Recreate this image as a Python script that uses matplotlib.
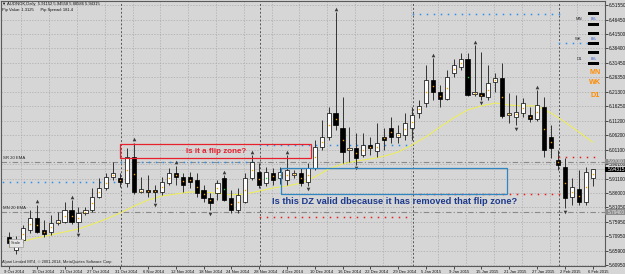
import matplotlib
matplotlib.use("Agg")
import matplotlib.pyplot as plt
import matplotlib.transforms as mtransforms
from matplotlib.patches import Rectangle
import numpy as np

# AUDNOK daily, 9 Oct 2014 .. 6 Feb 2015
opens = [5.707, 5.662, 5.697, 5.732, 5.773, 5.732, 5.725, 5.756, 5.759, 5.801,
         5.759, 5.791, 5.801, 5.847, 5.878, 5.916, 5.913, 5.895, 5.986, 5.864,
         5.871, 5.871, 5.864, 5.895, 5.930, 5.916, 5.916, 5.906, 5.871, 5.843,
         5.860, 5.913, 5.843, 5.801, 5.829, 5.913, 5.934, 5.895, 5.930, 5.913,
         5.906, 5.923, 5.930, 5.899, 5.948, 6.021, 6.056, 6.139, 6.087, 6.010,
         6.017, 5.993, 6.028, 6.007, 6.056, 6.087, 6.056, 6.063, 6.087, 6.139,
         6.174, 6.254, 6.212, 6.188, 6.279, 6.299, 6.327, 6.205, 6.209, 6.195,
         6.247, 6.261, 6.132, 6.125, 6.139, 6.132, 6.118, 6.160, 6.056, 5.976,
         5.951, 5.847, 5.874, 5.829, 5.91152]
highs = [5.725, 5.711, 5.749, 5.801, 5.819, 5.766, 5.784, 5.794, 5.829, 5.836,
         5.812, 5.812, 5.878, 5.913, 5.930, 5.969, 5.930, 6.017, 6.035, 5.916,
         5.923, 5.888, 5.916, 5.948, 5.955, 5.930, 5.934, 5.930, 5.888, 5.860,
         5.906, 5.923, 5.871, 5.878, 5.930, 5.993, 5.965, 5.951, 5.948, 5.951,
         5.993, 5.941, 5.948, 5.965, 6.045, 6.115, 6.160, 6.491, 6.195, 6.090,
         6.070, 6.070, 6.056, 6.104, 6.087, 6.125, 6.097, 6.139, 6.160, 6.185,
         6.306, 6.331, 6.237, 6.289, 6.327, 6.348, 6.348, 6.376, 6.352, 6.306,
         6.279, 6.313, 6.209, 6.202, 6.192, 6.160, 6.219, 6.195, 6.097, 6.010,
         5.982, 5.913, 5.941, 5.951, 5.94558]
lows = [5.672, 5.648, 5.686, 5.721, 5.721, 5.707, 5.714, 5.749, 5.756, 5.752,
        5.725, 5.784, 5.794, 5.843, 5.871, 5.906, 5.881, 5.881, 5.857, 5.860,
        5.847, 5.829, 5.854, 5.888, 5.888, 5.864, 5.878, 5.847, 5.829, 5.801,
        5.836, 5.833, 5.791, 5.791, 5.826, 5.906, 5.878, 5.885, 5.888, 5.892,
        5.888, 5.913, 5.885, 5.885, 5.941, 6.010, 6.045, 6.080, 5.965, 5.969,
        5.958, 5.986, 5.993, 5.986, 6.010, 6.035, 6.035, 6.045, 6.045, 6.122,
        6.160, 6.185, 6.160, 6.185, 6.265, 6.289, 6.198, 6.198, 6.185, 6.185,
        6.212, 6.122, 6.104, 6.097, 6.125, 6.108, 6.111, 5.986, 5.982, 5.941,
        5.808, 5.819, 5.819, 5.819, 5.88586]
closes = [5.686, 5.697, 5.738, 5.773, 5.725, 5.718, 5.756, 5.766, 5.801, 5.759,
          5.791, 5.801, 5.847, 5.878, 5.916, 5.930, 5.899, 5.986, 5.864, 5.874,
          5.864, 5.864, 5.899, 5.930, 5.916, 5.888, 5.899, 5.860, 5.843, 5.826,
          5.895, 5.836, 5.801, 5.854, 5.913, 5.969, 5.888, 5.934, 5.906, 5.934,
          5.941, 5.930, 5.895, 5.948, 6.021, 6.056, 6.139, 6.097, 6.003, 6.017,
          5.982, 6.028, 6.017, 6.035, 6.045, 6.056, 6.070, 6.104, 6.132, 6.164,
          6.254, 6.212, 6.188, 6.265, 6.306, 6.327, 6.202, 6.212, 6.198, 6.244,
          6.261, 6.129, 6.139, 6.143, 6.174, 6.118, 6.167, 6.010, 6.017, 5.958,
          5.843, 5.881, 5.829, 5.934, 5.94315]

# yellow moving average, read every second bar
ma_bars = list(range(0, 85, 2))
ma_vals = [5.672, 5.693, 5.704, 5.714, 5.725, 5.735, 5.752, 5.770, 5.791, 5.815,
           5.836, 5.850, 5.857, 5.864, 5.864, 5.860, 5.854, 5.857, 5.867, 5.878,
           5.885, 5.895, 5.916, 5.944, 5.962, 5.972, 5.979, 5.989, 6.003, 6.028,
           6.056, 6.090, 6.122, 6.150, 6.164, 6.174, 6.167, 6.164, 6.164, 6.139,
           6.108, 6.073, 6.038]

green_dots = [31, 37, 66]
fractal_up = [4, 9, 18, 24, 31, 35, 40, 47, 61, 67, 76]
fractal_dn = [10, 21, 29, 43, 50, 68, 73, 80]

date_labels = ["9 Oct 2014", "15 Oct 2014", "21 Oct 2014", "27 Oct 2014", "31 Oct 2014",
               "6 Nov 2014", "12 Nov 2014", "18 Nov 2014", "24 Nov 2014", "28 Nov 2014",
               "4 Dec 2014", "10 Dec 2014", "16 Dec 2014", "22 Dec 2014", "29 Dec 2014",
               "5 Jan 2015", "9 Jan 2015", "15 Jan 2015", "21 Jan 2015", "27 Jan 2015",
               "2 Feb 2015", "6 Feb 2015"]
price_ticks = [6.51550, 6.46450, 6.41500, 6.36400, 6.31450, 6.26350, 6.21300, 6.16250,
               6.11200, 6.06200, 6.01100, 5.96100, 5.91100, 5.86000, 5.81050, 5.75950,
               5.70950, 5.65900, 5.60950]

# month boundaries and previous-month high / low levels
month_start = [0, 17, 37, 59, 80]
month_end = [17, 37, 59, 80, 86]
prev_high = [5.899, 5.969, 6.028, 6.484, 6.383]
prev_low = [None, None, 5.777, 5.857, 5.986]

sr_ema = 5.9700
mn_ema = 5.7940
last_price = 5.94315

W, H = 625, 274
bg = '#d6d6d6'
small = 'Liberation Sans'
fig = plt.figure(figsize=(W / 100, H / 100), dpi=100, facecolor=bg)
ax = fig.add_axes([0.0016, 8 / H, 604 / W, 265 / H], facecolor=bg)

def fx(px):
    return px / W

def fy(py):
    return 1 - py / H

n = len(opens)
ax.set_xlim(-1.15, 85.78)
ax.set_ylim(5.6062, 6.5294)

# grid
for p in price_ticks:
    ax.axhline(p, color='#ababab', lw=0.5, ls=(0, (2, 2)), zorder=0)
for i in range(2, 86, 4):
    ax.axvline(i - 0.2, color='#ababab', lw=0.5, ls=(0, (2, 2)), zorder=0)
for m in month_start[1:]:
    ax.axvline(m - 0.85, color='#555555', lw=0.7, ls=(0, (2, 2)), zorder=1)

# EMA levels
ax.axhline(sr_ema, color='#8a8a8a', lw=0.8, ls=(0, (5, 2, 1, 2)), zorder=1)
ax.axhline(mn_ema, color='#8a8a8a', lw=0.8, ls=(0, (5, 2, 1, 2)), zorder=1)
ax.axhline(last_price, color='#b4b4b4', lw=0.4, zorder=1)
ax.text(-0.9, sr_ema + 0.006, "SR 20 EMA", fontsize=3.1, family=small, color='#222222', va='bottom')
ax.text(-0.9, mn_ema + 0.006, "MN 20 EMA", fontsize=3.1, family=small, color='#222222', va='bottom')

# previous month high/low dots
for s, e, hi, lo in zip(month_start, month_end, prev_high, prev_low):
    xs = np.arange(s - 0.85, min(e - 0.85, 85.0), 1.0)
    ax.plot(xs, [hi] * len(xs), ls='none', marker='s', ms=1.1, color='#2f8fe8', mew=0, zorder=2)
    if lo is not None:
        ax.plot(xs, [lo] * len(xs), ls='none', marker='s', ms=1.1, color='#e82020', mew=0, zorder=2)

# moving average
ax.plot(ma_bars, ma_vals, color='#f0f050', lw=0.7, zorder=2)

# candles
for i in range(n):
    o, h, l, c = opens[i], highs[i], lows[i], closes[i]
    ax.vlines(i, l, h, color='#333333', lw=0.7, zorder=3)
    up = c >= o
    ax.add_patch(Rectangle((i - 0.3, min(o, c)), 0.6, max(abs(c - o), 0.0025),
                           facecolor='white' if up else 'black', edgecolor='black',
                           lw=0.5, zorder=4))
    dot = '#2ecc40' if i in green_dots else '#f5a000'
    ax.plot(i, (o + c) / 2, marker='s', ms=1.0, color=dot, mew=0, zorder=5)

ax.plot(fractal_up, [highs[i] + 0.012 for i in fractal_up], ls='none', marker='^',
        ms=2.6, color='#3a3a3a', mew=0, zorder=5)
ax.plot(fractal_dn, [lows[i] - 0.012 for i in fractal_dn], ls='none', marker='v',
        ms=2.6, color='#3a3a3a', mew=0, zorder=5)

# annotations
flip_box = (15.95, 5.982, 43.5, 6.031)
dz_box = (39.1, 5.857, 71.7, 5.948)
ax.add_patch(Rectangle((flip_box[0], flip_box[1]), flip_box[2] - flip_box[0],
                       flip_box[3] - flip_box[1], fill=False, edgecolor='#e8202e', lw=0.9, zorder=6))
ax.add_patch(Rectangle((dz_box[0], dz_box[1]), dz_box[2] - dz_box[0],
                       dz_box[3] - dz_box[1], fill=False, edgecolor='#2f86c0', lw=0.9, zorder=6))
ax.text(29.8, 6.004, "Is it a flip zone?", color='#e8202e', fontsize=5.8,
        fontweight='bold', family='Liberation Sans', ha='center', va='center', zorder=7)
ax.text(37.9, 5.832, "Is this DZ valid dbecause it has removed that flip zone?",
        color='#1c3a8c', fontsize=6.7, fontweight='bold', family='Liberation Sans',
        ha='left', va='center', zorder=7)

# axes styling
for sp in ax.spines.values():
    sp.set_color('#5a5a5a')
    sp.set_linewidth(0.8)
ax.yaxis.tick_right()
ax.set_yticks(price_ticks)
ax.set_yticklabels([f"{p:.5f}" for p in price_ticks], family=small)
ax.tick_params(axis='y', labelsize=3.4, length=2, width=0.5, pad=1.0, colors='#111111')
ax.set_xticks(range(0, 85, 4))
ax.set_xticklabels(date_labels, family=small)
ax.tick_params(axis='x', labelsize=3.0, length=2, width=0.5, pad=1.2, colors='#111111')
shift = mtransforms.ScaledTranslation(-5 / 100, 0, fig.dpi_scale_trans)
for lab in ax.get_xticklabels():
    lab.set_ha('left')
    lab.set_transform(lab.get_transform() + shift)

# price boxes on the right axis (drawn over the tick labels they hide)
for val, face, txt in [(sr_ema, '#8c8c8c', '#e8e8e8'), (mn_ema, '#8c8c8c', '#e8e8e8'),
                       (last_price, 'black', 'white')]:
    ax.add_artist(Rectangle((1.0, val - 0.0095), 20 / 604, 0.019,
                            transform=ax.get_yaxis_transform(), facecolor=face,
                            edgecolor='none', clip_on=False, zorder=8))
    ax.text(1.004, val, f"{val:.5f}", transform=ax.get_yaxis_transform(), fontsize=3.4,
            family=small, color=txt, va='center', ha='left', zorder=9, clip_on=False)

# header texts
fig.text(fx(2), fy(4), "\u25bc AUDNOK,Daily  5.91152 5.94558 5.88586 5.94315",
         fontsize=3.0, family=['Liberation Sans', 'DejaVu Sans'], va='center', color='#111111')
fig.text(fx(2), fy(10), "Pip Value: 1.3125      Pip Spread: 181.4",
         fontsize=3.0, family=small, va='center', color='#111111')
fig.text(fx(2), fy(262), "Alpari Limited MT4, \u00a9 2001-2014, MetaQuotes Software Corp.",
         fontsize=2.9, family=small, va='center', color='#222222')
fig.text(fx(16), fy(243), "Scale", fontsize=3.0, family=small, ha='center', va='center',
         color='#333333', bbox=dict(boxstyle='square,pad=0.4', fc='#e4e4e4', ec='#9a9a9a', lw=0.5))

# strength panel top right
for y0 in [12, 23, 32, 42, 51, 62]:
    fig.add_artist(Rectangle((fx(588), fy(y0 + 3)), 11 / W, 3 / H, transform=fig.transFigure,
                             facecolor='black', edgecolor='none'))
for yy, name in [(19, "MN"), (39, "WK"), (59, "D1")]:
    fig.text(fx(582), fy(yy), name, fontsize=3.0, family=small, ha='right', va='center', color='#222222')
    fig.text(fx(594), fy(yy), "0%", fontsize=3.0, family=small, ha='center', va='center', color='#1f4fd0')
for yy, name in [(72, "MN"), (83, "WK"), (95, "D1")]:
    fig.text(fx(595), fy(yy), name, fontsize=5.2, family=small, ha='center', va='center',
             color='#ff8c00', fontweight='bold')

fig.savefig("out.png", dpi=100, facecolor=bg)
